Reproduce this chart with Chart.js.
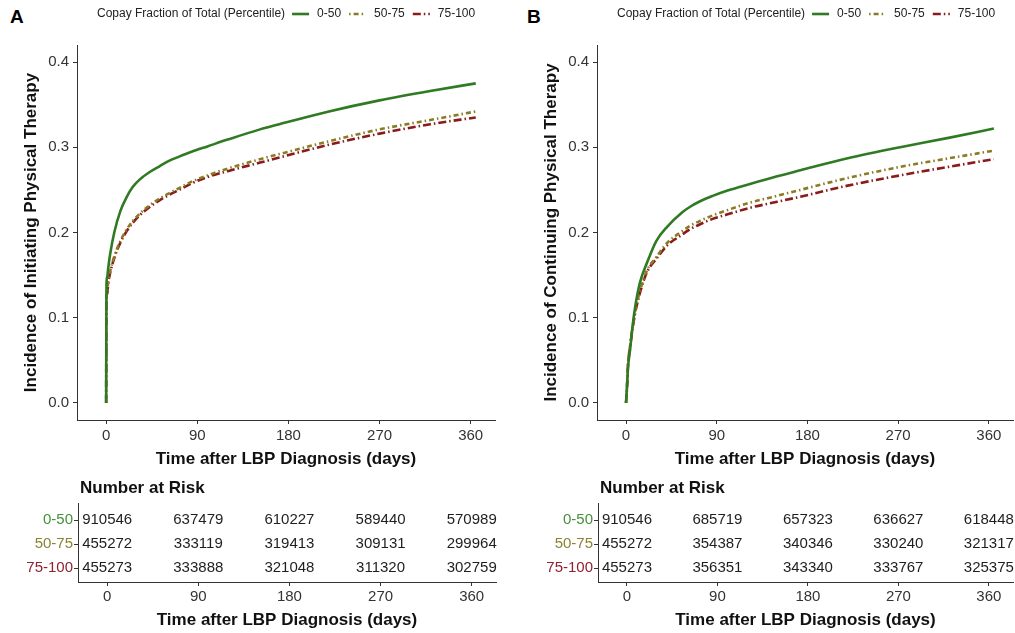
<!DOCTYPE html>
<html><head><meta charset="utf-8">
<script src="https://cdn.jsdelivr.net/npm/chart.js@4.4.1/dist/chart.umd.min.js"></script>
<style>
html,body{margin:0;padding:0;background:#fff;width:1015px;height:633px;overflow:hidden}
canvas{position:absolute;display:block}
.lab{position:absolute;font:bold 19px "Liberation Sans",Arial,sans-serif;color:#000;line-height:22px}
</style></head><body>
<div class="lab" style="left:10px;top:6px">A</div>
<div class="lab" style="left:527px;top:6px">B</div>
<canvas id="mA" width="510" height="470" style="left:0;top:0"></canvas>
<canvas id="mB" width="505" height="470" style="left:510px;top:0"></canvas>
<canvas id="tA" width="510" height="163" style="left:0;top:470px"></canvas>
<canvas id="tB" width="505" height="163" style="left:510px;top:470px"></canvas>
<script>
// ---- data ----
const xTicks=[0,90,180,270,360];
const yTicks=[0,0.1,0.2,0.3,0.4];
const groups=['0-50','50-75','75-100'];

const daysA=[0,0.3,1,2,4,8,14,20,26,33,43,53,62,72,85,100,120,152,171,220,270,320,365];
const initLow =[0,0.138,0.148,0.158,0.175,0.200,0.225,0.241,0.253,0.262,0.271,0.278,0.284,0.289,0.295,0.301,0.309,0.321,0.327,0.342,0.355,0.366,0.375];
const initMid =[0,0.122,0.130,0.142,0.155,0.172,0.190,0.203,0.213,0.222,0.232,0.240,0.246,0.252,0.260,0.267,0.275,0.286,0.292,0.307,0.321,0.332,0.342];
const initHigh=[0,0.120,0.128,0.140,0.153,0.170,0.188,0.201,0.211,0.220,0.230,0.238,0.244,0.250,0.258,0.265,0.272,0.282,0.288,0.303,0.316,0.327,0.335];

const daysB=[0,1,2,4,6,9,14,21,30,41,55,64,74,86,100,123,150,173,220,272,320,365];
const contLow =[0,0.020,0.042,0.062,0.085,0.112,0.142,0.165,0.190,0.207,0.223,0.2305,0.237,0.243,0.249,0.257,0.266,0.273,0.287,0.300,0.311,0.322];
const contMid =[0,0.020,0.047,0.067,0.085,0.107,0.132,0.156,0.171,0.188,0.201,0.208,0.214,0.220,0.226,0.235,0.243,0.250,0.264,0.277,0.287,0.296];
const contHigh=[0,0.018,0.045,0.065,0.083,0.105,0.130,0.154,0.169,0.185,0.197,0.204,0.210,0.216,0.221,0.229,0.236,0.242,0.255,0.267,0.277,0.286];

const riskA0=[910546,637479,610227,589440,570989];
const riskA1=[455272,333119,319413,309131,299964];
const riskA2=[455273,333888,321048,311320,302759];
const riskB0=[910546,685719,657323,636627,618448];
const riskB1=[455272,354387,340346,330240,321317];
const riskB2=[455273,356351,343340,333767,325375];

// ---- styles ----
const FONT='"Liberation Sans", Arial, Helvetica, sans-serif';
const COLORS=['#2f7a22','#8a7c24','#8b1a1a'];
const LABEL_COLORS=['#45903a','#8c8236','#8f2230'];
const DASH=[[],[1.5,3,5,3],[8,3,1.5,3]];
const XMIN=-28.8, XMAX=384;
const AXIS='#333';

const legendPlugin={id:'inlineLegend',afterDraw(chart){
  const c=chart.ctx; c.save();
  const y=14; let x=chart.chartArea.left+20;
  c.font='12px '+FONT; c.fillStyle='#222'; c.textBaseline='middle'; c.textAlign='left';
  const t='Copay Fraction of Total (Percentile)';
  c.fillText(t,x,y); x+=c.measureText(t).width+7;
  chart.data.datasets.forEach((d,i)=>{
    c.beginPath(); c.setLineDash(d.borderDash||[]); c.lineWidth=2.6; c.strokeStyle=d.borderColor;
    c.moveTo(x,y); c.lineTo(x+17,y); c.stroke(); c.setLineDash([]);
    x+=17+8; c.fillStyle='#222'; c.fillText(d.label,x,y); x+=c.measureText(d.label).width+8;
  });
  c.restore();
}};

const riskPlugin={id:'riskText',afterDatasetsDraw(chart){
  const c=chart.ctx, xs=chart.scales.x, ys=chart.scales.y; c.save();
  c.font='15px '+FONT; c.fillStyle='#1e1e1e'; c.textAlign='center'; c.textBaseline='middle';
  chart.data.datasets.forEach(d=>{
    d.data.forEach(p=>{ c.fillText(String(p.n), xs.getPixelForValue(p.x), ys.getPixelForValue(p.y)); });
  });
  c.font='bold 17px '+FONT; c.fillStyle='#111'; c.textAlign='left';
  c.fillText('Number at Risk', chart.chartArea.left+2, chart.chartArea.top-15);
  c.restore();
}};

function xScale(h,titlePadBottom,tickPad){
  return {type:'linear',min:XMIN,max:XMAX,
    afterBuildTicks:s=>{s.ticks=xTicks.map(v=>({value:v}));},
    afterFit:s=>{s.height=h;},
    grid:{drawOnChartArea:false,drawTicks:true,tickLength:4,color:AXIS},
    border:{display:true,color:AXIS,width:1},
    ticks:{font:{family:FONT,size:15},color:'#333',padding:tickPad,maxRotation:0,autoSkip:false,callback:v=>String(v)},
    title:{display:true,text:'Time after LBP Diagnosis (days)',font:{family:FONT,size:17,weight:'bold'},color:'#111',padding:{top:0,bottom:titlePadBottom}}};
}

function mainChart(id,yAxisW,titleOff,rightPad,days,series,yTitle){
  new Chart(document.getElementById(id),{type:'line',
    data:{datasets:series.map((s,i)=>({label:groups[i],data:days.map((d,k)=>({x:d,y:s[k]})),
      borderColor:COLORS[i],borderWidth:2.6,borderDash:DASH[i],pointRadius:0,cubicInterpolationMode:'monotone',fill:false}))},
    options:{responsive:false,animation:false,devicePixelRatio:1,
      layout:{padding:{top:45,right:rightPad,left:0,bottom:0}},
      plugins:{legend:{display:false},tooltip:{enabled:false}},
      scales:{
        x:xScale(50,0,3),
        y:{type:'linear',min:-0.02,max:0.42,
          afterBuildTicks:s=>{s.ticks=yTicks.map(v=>({value:v}));},
          afterFit:s=>{s.width=yAxisW;},
          grid:{drawOnChartArea:false,drawTicks:true,tickLength:4,color:AXIS},
          border:{display:true,color:AXIS,width:1},
          ticks:{font:{family:FONT,size:15},color:'#333',padding:4,callback:v=>Number(v).toFixed(1)},
          title:{display:true,text:yTitle,font:{family:FONT,size:17,weight:'bold'},color:'#111',padding:{top:titleOff,bottom:0}}}
      }},
    plugins:[legendPlugin]});
}

function tableChart(id,yAxisW,rightPad,risks){
  new Chart(document.getElementById(id),{type:'scatter',
    data:{datasets:risks.map((r,i)=>({label:groups[i],data:xTicks.map((t,k)=>({x:t,y:i,n:r[k]})),pointRadius:0,showLine:false}))},
    options:{responsive:false,animation:false,devicePixelRatio:1,
      layout:{padding:{top:33,right:rightPad,left:0,bottom:0}},
      plugins:{legend:{display:false},tooltip:{enabled:false}},
      scales:{
        x:xScale(51,2,2),
        y:{type:'linear',reverse:true,min:-0.71,max:2.58,
          afterBuildTicks:s=>{s.ticks=[0,1,2].map(v=>({value:v}));},
          afterFit:s=>{s.width=yAxisW;},
          grid:{drawOnChartArea:false,drawTicks:true,tickLength:4,color:AXIS},
          border:{display:true,color:AXIS,width:1},
          ticks:{font:{family:FONT,size:15},padding:1,color:c=>LABEL_COLORS[c.tick?c.tick.value:0]||'#333',callback:v=>groups[v]}}
      }},
    plugins:[riskPlugin]});
}

mainChart('mA',77,21,15,daysA,[initLow,initMid,initHigh],'Incidence of Initiating Physical Therapy');
mainChart('mB',87,31,2,daysB,[contLow,contMid,contHigh],'Incidence of Continuing Physical Therapy');
tableChart('tA',78,14,[riskA0,riskA1,riskA2]);
tableChart('tB',88,2,[riskB0,riskB1,riskB2]);
</script>
</body></html>
